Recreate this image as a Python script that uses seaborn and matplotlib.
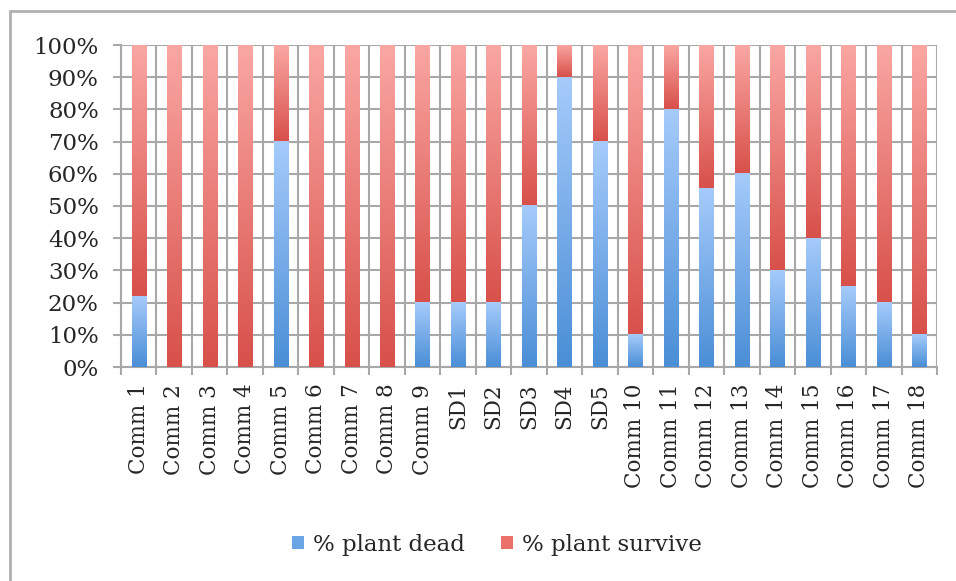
import numpy as np
import pandas as pd
import matplotlib
matplotlib.use("Agg")
import matplotlib.pyplot as plt
import seaborn as sns
from matplotlib.colors import to_rgb
from matplotlib.ticker import PercentFormatter, FixedLocator
from matplotlib.patches import Patch
from matplotlib.lines import Line2D

categories = ["Comm 1", "Comm 2", "Comm 3", "Comm 4", "Comm 5", "Comm 6", "Comm 7",
              "Comm 8", "Comm 9", "SD1", "SD2", "SD3", "SD4", "SD5", "Comm 10",
              "Comm 11", "Comm 12", "Comm 13", "Comm 14", "Comm 15", "Comm 16",
              "Comm 17", "Comm 18"]
plant_dead = [22, 0, 0, 0, 70, 0, 0, 0, 20, 20, 20, 50, 90, 70, 10, 80, 55.5, 60,
              30, 40, 25, 20, 10]
plant_survive = [78, 100, 100, 100, 30, 100, 100, 100, 80, 80, 80, 50, 10, 30, 90,
                 20, 44.5, 40, 70, 60, 75, 80, 90]
series_names = ["% plant dead", "% plant survive"]
yticks = [0, 10, 20, 30, 40, 50, 60, 70, 80, 90, 100]

BLUE_DARK, BLUE_LIGHT = "#4a8ed6", "#a6cbfb"
RED_DARK, RED_LIGHT = "#d8504a", "#faa7a3"
GRID = "#a8a8a8"
FONT = "DejaVu Serif"

df = pd.DataFrame({"cat": categories, "dead": plant_dead, "survive": plant_survive})
df["total"] = df["dead"] + df["survive"]

sns.set_style("white")
plt.rcParams["font.family"] = [FONT, "DejaVu Sans"]

fig = plt.figure(figsize=(9.56, 5.81), dpi=100)
ax = fig.add_axes([121 / 956, 1 - 367 / 581, (937 - 121) / 956, (367 - 45) / 581])

sns.barplot(data=df, x="cat", y="total", color=RED_DARK, width=0.4, ax=ax, saturation=1)
sns.barplot(data=df, x="cat", y="dead", color=BLUE_DARK, width=0.4, ax=ax, saturation=1)

n = len(categories)
red_patches = ax.patches[:n]
blue_patches = ax.patches[n:2 * n]


def grad(c0, c1, steps=256):
    a = np.array(to_rgb(c0))
    b = np.array(to_rgb(c1))
    t = np.linspace(0, 1, steps)[:, None]
    return (a * (1 - t) + b * t)[:, None, :]


for i, p in enumerate(red_patches):
    p.set_y(df["dead"].iloc[i])
    p.set_height(df["survive"].iloc[i])

for patches, (c0, c1) in ((red_patches, (RED_DARK, RED_LIGHT)),
                          (blue_patches, (BLUE_DARK, BLUE_LIGHT))):
    for p in patches:
        x, y, w, h = p.get_x(), p.get_y(), p.get_width(), p.get_height()
        p.set_facecolor("none")
        p.set_edgecolor("none")
        if h <= 0:
            continue
        ax.imshow(grad(c0, c1), origin="lower", extent=[x, x + w, y, y + h],
                  aspect="auto", zorder=3, interpolation="bilinear")

ax.set_xlim(-0.5, n - 0.5)
ax.set_ylim(0, 100)
ax.set_axisbelow(True)

ax.set_yticks(yticks)
ax.yaxis.set_major_formatter(PercentFormatter(decimals=0))
ax.xaxis.set_minor_locator(FixedLocator(np.arange(-0.5, n, 1.0)))
ax.grid(True, axis="y", which="major", color=GRID, linewidth=1.5)
ax.grid(True, axis="x", which="minor", color=GRID, linewidth=1.5)
ax.grid(False, axis="x", which="major")

ax.tick_params(axis="x", which="major", length=0, pad=12, labelsize=15.5, rotation=90)
ax.tick_params(axis="x", which="minor", length=6, width=1.5, color=GRID, direction="out",
               bottom=True)
ax.tick_params(axis="y", which="major", length=6, width=1.5, color=GRID, direction="out",
               left=True, labelsize=16.5, pad=10)
for lbl in ax.get_xticklabels():
    lbl.set_va("top")
    lbl.set_ha("center")

for s in ["top", "right"]:
    ax.spines[s].set_visible(False)
for s in ["left", "bottom"]:
    ax.spines[s].set_color(GRID)
    ax.spines[s].set_linewidth(1.5)
ax.set_xlabel("")
ax.set_ylabel("")

handles = [Patch(facecolor="#6aa5e6", edgecolor="none"),
           Patch(facecolor="#e9716a", edgecolor="none")]
fig.legend(handles, series_names, loc="center", bbox_to_anchor=(497 / 956, 1 - 545 / 581),
           ncol=2, frameon=False, fontsize=16.5, handlelength=0.5, handleheight=0.5,
           handletextpad=0.4, columnspacing=1.6)

# outer border (top and left edges visible)
fig.add_artist(Line2D([9.5 / 956, 9.5 / 956], [0, 1 - 10.5 / 581], transform=fig.transFigure,
                      color="#b0b0b0", linewidth=2))
fig.add_artist(Line2D([9.5 / 956, 1], [1 - 10.5 / 581, 1 - 10.5 / 581], transform=fig.transFigure,
                      color="#b0b0b0", linewidth=2))

fig.savefig("out.png", dpi=100)
